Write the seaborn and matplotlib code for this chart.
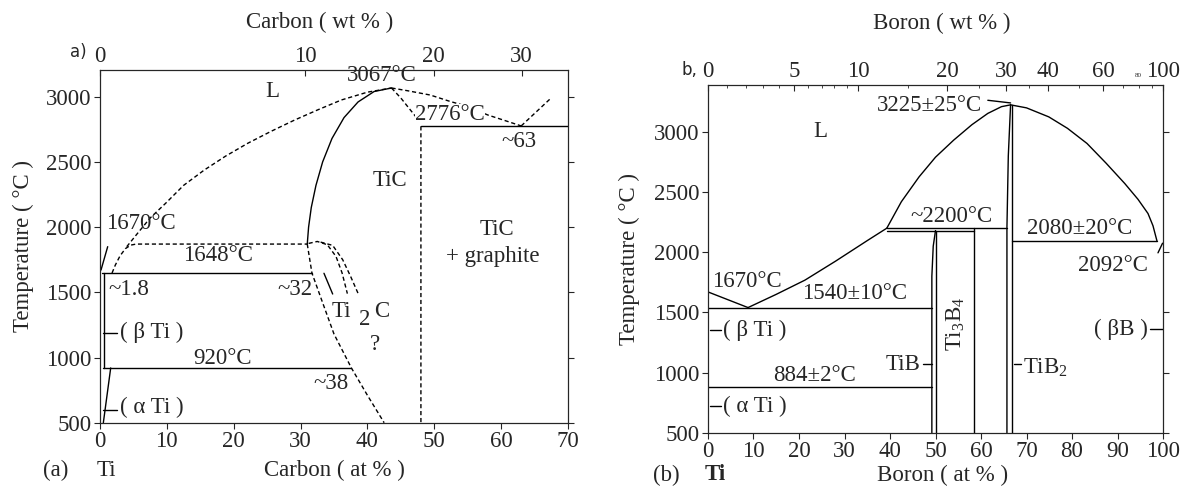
import numpy as np
import matplotlib
matplotlib.use("Agg")
import matplotlib.pyplot as plt
import seaborn as sns

# ---------------- (a) Ti-C ----------------
c_liq_x = [4.0, 5.5, 7.5, 9.8, 12.5, 15.6, 18.8, 22.1, 25.6, 29.1, 32.6, 36.1, 40.0, 43.6]
c_liq_t = [1850, 1945, 2070, 2182, 2320, 2438, 2545, 2643, 2735, 2821, 2900, 2975, 3035, 3067]
c_low_x = [1.8, 2.3, 3.0, 3.8, 4.6, 5.4, 31.0]
c_low_t = [1648, 1710, 1780, 1835, 1862, 1870, 1870]
c_tic_left_x = [31.0, 31.2, 31.6, 32.3, 33.3, 34.7, 36.5, 38.6, 41.0, 43.6]
c_tic_left_t = [1870, 2000, 2150, 2320, 2500, 2680, 2840, 2960, 3040, 3067]
c_tic_low_x = [31.0, 31.7, 33.3, 35.0, 36.5, 37.6, 40.0, 42.5]
c_tic_low_t = [1870, 1648, 1420, 1180, 1030, 920, 710, 500]
c_tic_right_x = [43.6, 45.0, 46.4, 47.5, 48.0, 48.0]
c_tic_right_t = [3067, 2990, 2900, 2830, 2776, 500]
c_liq2_x = [43.6, 46.0, 49.4, 52.3, 55.0, 58.0, 61.0, 63.0]
c_liq2_t = [3067, 3046, 3013, 2965, 2925, 2860, 2810, 2776]
c_gr_x = [63.0, 67.3]
c_gr_t = [2776, 2982]
c_dome1_x = [31.2, 32.5, 34.0, 35.3, 36.2, 37.0]
c_dome1_t = [1875, 1890, 1865, 1775, 1650, 1490]
c_dome2_x = [33.0, 34.8, 36.3, 37.5, 38.7]
c_dome2_t = [1885, 1860, 1750, 1620, 1480]
c_eut_t, c_eut_x = 2776, [48.0, 70.0]
c_1648_t, c_1648_x = 1648, [0.3, 31.7]
c_920_t, c_920_x = 920, [0.5, 37.6]
c_beta_x, c_beta_t = [0.55, 0.55], [920, 1648]
c_alpha_x, c_alpha_t = [1.6, 0.5], [920, 500]

c_wt_ticks = [0, 10, 20, 30]

# ---------------- (b) Ti-B ----------------
b_liq1_x = [0, 8.8]
b_liq1_t = [1670, 1540]
b_liq2_x = [8.8, 15.0, 21.3, 28.0, 35.1, 39.3]
b_liq2_t = [1540, 1650, 1768, 1925, 2099, 2200]
b_liq3_x = [39.3, 42.5, 46.4, 50.0, 54.0, 58.0, 61.5, 64.5, 66.5]
b_liq3_t = [2200, 2420, 2627, 2790, 2932, 3060, 3154, 3210, 3225]
b_liq4_x = [66.5, 70.0, 74.9, 79.0, 83.3, 87.5, 91.6, 94.5, 96.7, 97.8, 98.7]
b_liq4_t = [3225, 3200, 3125, 3030, 2904, 2740, 2571, 2440, 2322, 2220, 2090]
b_tib_l_x = [49.2, 49.2, 49.5, 50.0]
b_tib_l_t = [500, 1800, 2050, 2180]
b_tib_r_x, b_tib_r_t = [50.2, 50.2], [500, 2180]
b_t3b4_x, b_t3b4_t = [58.4, 58.4], [500, 2205]
b_tib2_l_x = [65.7, 65.7, 66.0, 66.5]
b_tib2_l_t = [500, 2205, 2800, 3225]
b_tib2_r_x, b_tib2_r_t = [66.8, 66.8], [500, 3225]
b_2200_t, b_2200_x = 2205, [39.3, 65.7]
b_2180_t, b_2180_x = 2180, [39.3, 58.4]
b_2080_t, b_2080_x = 2090, [66.8, 98.7]
b_1540_t, b_1540_x = 1540, [0, 49.2]
b_884_t, b_884_x = 884, [0, 49.2]

b_wt_ticks = [0, 5, 10, 20, 30, 40, 60, 100]
b_wt_minor = [1, 2, 3, 4, 6, 7, 8, 9, 15, 25, 35, 50, 70, 80, 90]

t_ticks = [500, 1000, 1500, 2000, 2500, 3000]

sns.set_theme(style="ticks")
plt.rcParams['font.family'] = ['Liberation Serif', 'DejaVu Serif']
plt.rcParams['mathtext.fontset'] = 'custom'
plt.rcParams['mathtext.rm'] = 'Liberation Serif'
FS = 16.5


def at_from_wt(w, m_x, m_ti=47.867):
    w = np.asarray(w, dtype=float)
    a = w / m_x
    b = (100 - w) / m_ti
    return 100 * a / (a + b)


def line(ax, x, y, ls='-', lw=1.0):
    sns.lineplot(x=x, y=y, ax=ax, sort=False, estimator=None,
                 color='black', linewidth=lw, linestyle=ls)


def hline(ax, t, xs, ls='-'):
    line(ax, xs, [t, t], ls)


DASH = (0, (3, 2))

W, H = 1188, 488
fig = plt.figure(figsize=(W / 100, H / 100), dpi=100)
axA = fig.add_axes([100 / W, 1 - 422.7 / H, 468 / W, 352.7 / H])
axB = fig.add_axes([708 / W, 1 - 432.7 / H, 455 / W, 347.7 / H])

# ---- panel a ----
line(axA, c_liq_x, c_liq_t, DASH)
line(axA, c_low_x, c_low_t, DASH)
line(axA, c_tic_left_x, c_tic_left_t)
line(axA, c_tic_low_x, c_tic_low_t, DASH)
line(axA, c_tic_right_x, c_tic_right_t, DASH)
line(axA, c_liq2_x, c_liq2_t, DASH)
line(axA, c_gr_x, c_gr_t, DASH)
line(axA, c_dome1_x, c_dome1_t, DASH)
line(axA, c_dome2_x, c_dome2_t, DASH)
hline(axA, c_eut_t, c_eut_x)
hline(axA, c_1648_t, c_1648_x)
hline(axA, c_920_t, c_920_x)
line(axA, c_beta_x, c_beta_t)
line(axA, c_alpha_x, c_alpha_t)
# pointers
line(axA, [1.15, 0.15], [1850, 1671])
line(axA, [33.5, 34.8], [1646, 1487])
line(axA, [0.5, 2.5], [1190, 1190])
line(axA, [0.5, 2.5], [600, 600])

axA.set_xlim(0, 70)
axA.set_ylim(500, 3205)
axA.set_xticks(range(0, 71, 10))
axA.set_yticks(t_ticks)

txt = dict(fontsize=FS, ha='center', va='center')
axA.text(25.8, 3038, "L", **txt)
axA.text(42.2, 3166, "3067°C", **txt)
axA.text(52.4, 2860, "2776°C", bbox=dict(fc='white', ec='none', pad=0), **txt)
axA.text(62.6, 2655, "~63", **txt)
axA.text(43.3, 2361, "TiC", **txt)
axA.text(59.4, 1978, "TiC", **txt)
axA.text(58.8, 1773, "+ graphite", **txt)
axA.text(0.9, 2030, "1670°C", fontsize=FS, ha='left', va='center')
axA.text(17.7, 1786, "1648°C", **txt)
axA.text(1.2, 1518, "~1.8", fontsize=FS, ha='left', va='center')
axA.text(29.1, 1518, "~32", **txt)
axA.text(3.0, 1190, "( β Ti )", fontsize=FS, ha='left', va='center')
axA.text(18.3, 994, "920°C", **txt)
axA.text(34.6, 797, "~38", **txt)
axA.text(3.0, 620, "( α Ti )", fontsize=FS, ha='left', va='center')
axA.text(36.1, 1351, "Ti", **txt)
axA.text(39.6, 1288, "2", **txt)
axA.text(42.2, 1351, "C", **txt)
axA.text(41.1, 1096, "?", **txt)

topA = axA.twiny()
topA.set_xlim(axA.get_xlim())
topA.set_xticks(at_from_wt(c_wt_ticks, 12.011))
topA.set_xticklabels([str(v) for v in c_wt_ticks])

# ---- panel b ----
line(axB, b_liq1_x, b_liq1_t)
line(axB, b_liq2_x, b_liq2_t)
line(axB, b_liq3_x, b_liq3_t)
line(axB, b_liq4_x, b_liq4_t)
line(axB, b_tib_l_x, b_tib_l_t)
line(axB, b_tib_r_x, b_tib_r_t)
line(axB, b_t3b4_x, b_t3b4_t)
line(axB, b_tib2_l_x, b_tib2_l_t)
line(axB, b_tib2_r_x, b_tib2_r_t)
hline(axB, b_2200_t, b_2200_x)
hline(axB, b_2180_t, b_2180_x)
hline(axB, b_2080_t, b_2080_x)
hline(axB, b_1540_t, b_1540_x)
hline(axB, b_884_t, b_884_x)
# pointers
line(axB, [0.4, 2.9], [1353, 1353])
line(axB, [0.4, 2.9], [722, 722])
line(axB, [47.3, 49.2], [1070, 1070])
line(axB, [67.2, 68.9], [1070, 1070])
line(axB, [97.1, 100], [1359, 1359])
line(axB, [61.5, 66.5], [3263, 3241])
line(axB, [98.9, 99.9], [1995, 2075])

axB.set_xlim(0, 100)
axB.set_ylim(500, 3390)
axB.set_xticks(range(0, 101, 10))
axB.set_yticks(t_ticks)

axB.text(24.7, 3000, "L", **txt)
axB.text(60.3, 3222, "3225±25°C", fontsize=FS, ha='right', va='center')
axB.text(53.6, 2294, "~2200°C", **txt)
axB.text(81.6, 2197, "2080±20°C", **txt)
axB.text(89.1, 1893, "2092°C", **txt)
axB.text(0.8, 1754, "1670°C", fontsize=FS, ha='left', va='center')
axB.text(32.2, 1658, "1540±10°C", **txt)
axB.text(23.4, 979, "884±2°C", **txt)
axB.text(3.3, 1353, "( β Ti )", fontsize=FS, ha='left', va='center')
axB.text(3.3, 722, "( α Ti )", fontsize=FS, ha='left', va='center')
axB.text(46.8, 1070, "TiB", fontsize=FS, ha='right', va='center')
axB.text(69.3, 1045, "TiB$_2$", fontsize=FS, ha='left', va='center')
axB.text(96.7, 1359, "( βB )", fontsize=FS, ha='right', va='center')
axB.text(54.4, 1409, "Ti$_3$B$_4$", fontsize=FS, ha='center', va='center', rotation=90)

topB = axB.twiny()
topB.set_xlim(axB.get_xlim())
topB.set_xticks(at_from_wt(b_wt_ticks, 10.811))
topB.set_xticklabels([str(v) for v in b_wt_ticks])
topB.set_xticks(at_from_wt(b_wt_minor, 10.811), minor=True)
topB.text(at_from_wt(80, 10.811), 1.02, "80", transform=topB.get_xaxis_transform(),
          fontsize=5, ha='center', va='bottom')

for ax in (axA, axB):
    ax.tick_params(axis='both', direction='out', length=4, width=0.8,
                   labelsize=FS, pad=2, right=True)
    for s in ax.spines.values():
        s.set_linewidth(0.8)
        s.set_color('black')
for ax in (topA, topB):
    ax.tick_params(axis='x', direction='in', length=4, width=0.8, labelsize=FS, pad=2)
    ax.tick_params(axis='x', which='minor', direction='in', length=2, width=0.6)
    for s in ax.spines.values():
        s.set_linewidth(0.8)

# figure-level labels
def ftext(x, y, s, **kw):
    fig.text(x / W, 1 - y / H, s, **kw)

ftext(320, 22, "Carbon ( wt % )", fontsize=FS, ha='center', va='center')
ftext(942, 23, "Boron ( wt % )", fontsize=FS, ha='center', va='center')
ftext(334, 470, "Carbon ( at % )", fontsize=FS, ha='center', va='center')
ftext(943, 475, "Boron ( at % )", fontsize=FS, ha='center', va='center')
ftext(56, 470, "(a)", fontsize=FS, ha='center', va='center')
ftext(106, 470, "Ti", fontsize=FS, ha='center', va='center')
ftext(666, 475, "(b)", fontsize=FS, ha='center', va='center')
ftext(715, 475, "Ti", fontsize=FS, ha='center', va='center', fontweight='bold')
ftext(23, 246, "Temperature ( °C )", fontsize=FS, ha='center', va='center', rotation=90)
ftext(629, 259, "Temperature ( °C )", fontsize=FS, ha='center', va='center', rotation=90)
ftext(78, 52, "a)", fontsize=12, ha='center', va='center', family='DejaVu Sans')
ftext(689, 70, "b,", fontsize=12, ha='center', va='center', family='DejaVu Sans')

fig.savefig("out.png", dpi=100)
